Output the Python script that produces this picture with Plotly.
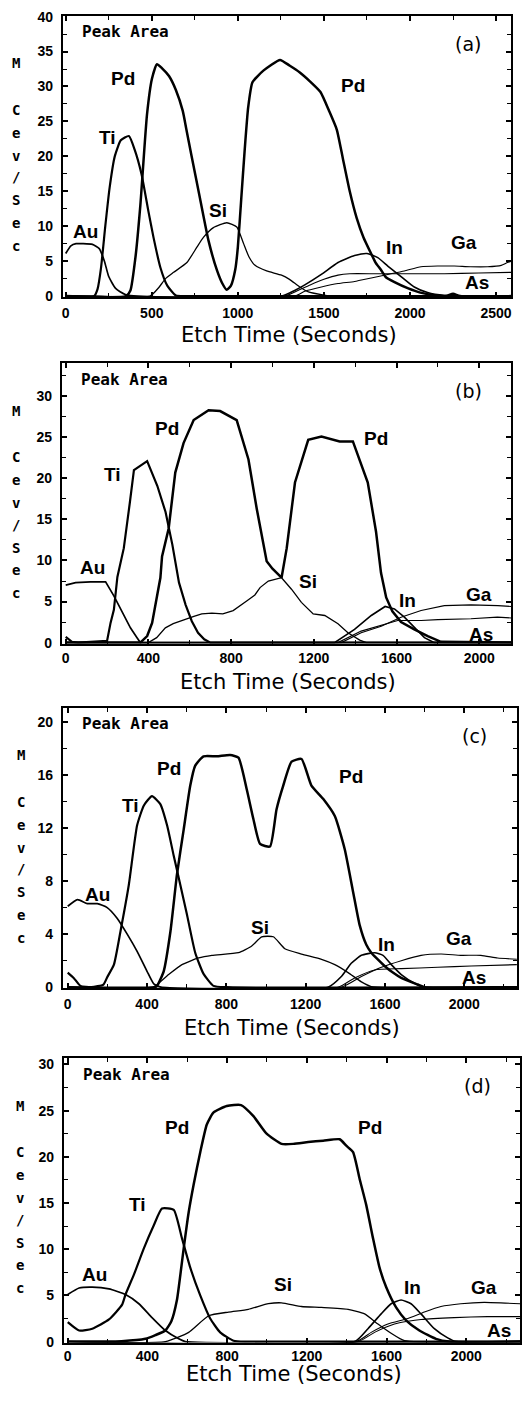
import plotly.graph_objects as go

W, H = 526, 1403

# ---------------- panel (a) ----------------
A_AU_T = [0, 30, 60, 100, 155, 195, 225, 250, 290, 350, 2590]
A_AU = [6.1, 7.2, 7.5, 7.5, 7.4, 6.8, 5.0, 2.8, 1.1, 0.2, 0]
A_TI_T = [0, 165, 185, 205, 230, 255, 285, 320, 367, 400, 440, 480, 510, 550, 590, 640, 700, 2590]
A_TI = [0, 0, 1.0, 4.0, 10.0, 15.5, 20.0, 22.3, 22.9, 21.0, 17.5, 12.2, 8.4, 4.1, 1.5, 0.1, 0, 0]
A_PD_T = [0, 350, 376, 405, 434, 472, 501, 530, 560, 600, 640, 680, 700, 730, 780, 830, 880, 910,
          935, 960, 985, 1000, 1020, 1040, 1060, 1085, 1150, 1245, 1300, 1360, 1420, 1480, 1530,
          1575, 1610, 1650, 1690, 1730, 1770, 1800, 1830, 1860, 1910, 1990, 2060, 2150, 2210,
          2250, 2290, 2590]
A_PD = [0, 0, 0.8, 5.5, 13.1, 25.9, 31.1, 33.2, 32.6, 31.5, 29.5, 26.5, 24.0, 20.2, 14.0, 7.9,
        3.6, 1.8, 0.9, 1.5, 3.8, 7.0, 14.0, 21.0, 27.0, 30.6, 32.3, 33.8, 33.0, 32.0, 30.7, 29.2,
        26.5, 23.8, 19.7, 15.0, 11.2, 8.4, 6.3, 4.8, 3.8, 2.7, 2.0, 1.1, 0.5, 0.1, 0, 0.35, 0, 0]
A_SI_T = [0, 490, 540, 580, 627, 704, 762, 800, 858, 936, 994, 1032, 1065, 1100, 1167, 1254, 1300,
          1360, 1410, 1485, 1540, 2590]
A_SI = [0, 0, 1.2, 2.5, 3.4, 4.8, 7.0, 8.4, 9.8, 10.5, 9.9, 7.6, 5.6, 4.4, 3.6, 3.0, 2.4, 1.3,
        0.6, 0.2, 0, 0]
A_IN_T = [0, 1254, 1330, 1389, 1485, 1582, 1678, 1750, 1813, 1871, 1948, 2025, 2102, 2199, 2590]
A_IN = [0, 0, 0.8, 1.6, 3.1, 4.8, 5.8, 6.1, 5.5, 4.3, 2.8, 1.3, 0.5, 0.1, 0]
A_GA_T = [0, 1331, 1389, 1485, 1582, 1678, 1775, 1871, 1967, 2064, 2160, 2257, 2350, 2450, 2530,
          2566, 2590]
A_GA = [0, 0, 0.7, 1.3, 1.8, 2.1, 2.6, 3.1, 3.6, 4.2, 4.3, 4.3, 4.2, 4.2, 4.4, 4.8, 5.0]
A_AS_T = [0, 1273, 1350, 1420, 1500, 1582, 1650, 1800, 2000, 2200, 2400, 2590]
A_AS = [0, 0, 0.8, 1.6, 2.4, 3.0, 3.2, 3.2, 3.2, 3.2, 3.3, 3.4]

# ---------------- panel (b) ----------------
B_AU_T = [0, 48, 120, 193, 233, 273, 313, 345, 361, 2155]
B_AU = [7.0, 7.3, 7.4, 7.4, 5.7, 3.7, 1.8, 0.6, 0, 0]
B_TI_T = [0, 30, 60, 200, 217, 233, 250, 281, 310, 330, 394, 443, 483, 516, 548, 580, 610, 640,
          670, 700, 2155]
B_TI = [0.7, 0.1, 0, 0.2, 2.4, 4.0, 8.0, 11.5, 17.0, 21.0, 22.1, 19.1, 15.9, 11.9, 7.3, 4.6,
        2.6, 1.2, 0.4, 0, 0]
B_PD_T = [0, 361, 394, 418, 442, 458, 466, 498, 530, 570, 619, 691, 747, 827, 884, 924, 972,
          1000, 1044, 1069, 1109, 1173, 1237, 1325, 1389, 1461, 1501, 1525, 1550, 1580, 1622,
          1686, 1751, 1815, 2155]
B_PD = [0, 0, 0.8, 2.4, 5.7, 7.9, 10.5, 13.9, 20.7, 24.3, 27.1, 28.3, 28.2, 27.1, 22.3, 16.3,
        9.9, 9.0, 7.9, 11.5, 19.5, 24.7, 25.1, 24.5, 24.5, 19.5, 13.5, 8.5, 5.5, 3.8, 2.5, 1.6,
        0.8, 0.1, 0]
B_SI_T = [0, 400, 440, 482, 520, 562, 620, 658, 707, 760, 810, 877, 915, 940, 980, 1044, 1092,
          1140, 1197, 1253, 1317, 1365, 1422, 1454, 2155]
B_SI = [0, 0, 0.6, 1.8, 2.3, 2.7, 3.2, 3.5, 3.6, 3.5, 3.9, 5.1, 5.8, 6.7, 7.5, 7.9, 6.5, 4.9,
        3.5, 3.3, 2.3, 1.2, 0.3, 0, 0]
B_IN_T = [0, 1300, 1397, 1478, 1545, 1590, 1638, 1686, 1735, 1783, 2155]
B_IN = [0, 0, 1.6, 3.3, 4.4, 4.1, 3.1, 1.8, 0.6, 0, 0]
B_GA_T = [0, 1333, 1429, 1526, 1622, 1719, 1831, 1960, 2090, 2155]
B_GA = [0, 0, 1.2, 2.0, 3.1, 3.9, 4.5, 4.6, 4.5, 4.4]
B_AS_T = [0, 1317, 1429, 1542, 1606, 1719, 1800, 1960, 2088, 2155]
B_AS = [0, 0, 1.4, 2.2, 2.7, 2.7, 2.8, 2.9, 3.1, 3.0]

# ---------------- panel (c) ----------------
C_AU_T = [0, 49, 99, 149, 199, 249, 300, 350, 400, 434, 470, 2265]
C_AU = [6.1, 6.6, 6.3, 6.3, 6.0, 5.2, 4.0, 2.7, 1.2, 0.25, 0, 0]
C_TI_T = [0, 30, 64, 120, 180, 199, 233, 266, 308, 350, 384, 425, 467, 501, 534, 568, 601, 643,
          685, 735, 800, 2265]
C_TI = [1.1, 0.7, 0.1, 0, 0.2, 0.75, 1.7, 4.2, 7.7, 12.2, 13.7, 14.4, 13.8, 12.2, 9.95, 7.7,
        5.5, 2.6, 1.0, 0.1, 0, 0]
C_PD_T = [0, 440, 451, 484, 518, 551, 585, 618, 643, 685, 752, 819, 861, 903, 936, 970, 1020,
          1053, 1087, 1129, 1179, 1229, 1288, 1347, 1397, 1439, 1472, 1506, 1531, 1556, 1598,
          1640, 1682, 1765, 1800, 2265]
C_PD = [0, 0, 0.1, 1.2, 4.2, 8.5, 11.9, 15.2, 16.7, 17.4, 17.4, 17.5, 17.3, 14.9, 12.7, 10.8,
        10.6, 13.4, 15.2, 17.0, 17.2, 15.2, 14.2, 12.9, 10.4, 7.2, 4.7, 3.2, 2.6, 2.2, 1.6, 1.1,
        0.7, 0.2, 0, 0]
C_SI_T = [0, 430, 442, 509, 576, 660, 727, 861, 928, 978, 1037, 1095, 1179, 1280, 1347, 1414,
          1481, 1531, 2265]
C_SI = [0, 0, 0.1, 0.95, 1.7, 2.2, 2.4, 2.6, 3.1, 3.8, 3.8, 2.9, 2.5, 2.1, 1.7, 1.1, 0.4, 0.05, 0]
C_IN_T = [0, 1313, 1380, 1430, 1481, 1548, 1590, 1632, 1682, 1749, 1800, 2265]
C_IN = [0, 0, 0.8, 1.8, 2.4, 2.6, 2.4, 1.7, 0.95, 0.3, 0, 0]
C_GA_T = [0, 1380, 1481, 1582, 1682, 1782, 1883, 1983, 2084, 2168, 2265]
C_GA = [0, 0, 0.8, 1.5, 2.0, 2.4, 2.5, 2.4, 2.4, 2.2, 2.1]
C_AS_T = [0, 1363, 1447, 1548, 1682, 1866, 2034, 2265]
C_AS = [0, 0, 0.7, 1.3, 1.4, 1.5, 1.6, 1.7]

# ---------------- panel (d) ----------------
D_AU_T = [0, 57, 123, 207, 290, 357, 423, 490, 557, 590, 2270]
D_AU = [5.1, 5.8, 5.9, 5.7, 5.1, 4.1, 2.6, 1.2, 0.3, 0, 0]
D_TI_T = [0, 57, 123, 207, 273, 290, 333, 382, 432, 473, 532, 573, 615, 665, 715, 765, 832, 900,
          2270]
D_TI = [2.1, 1.2, 1.4, 2.4, 4.0, 5.1, 7.3, 10.1, 12.6, 14.4, 14.25, 11.2, 8.0, 5.0, 2.5, 1.0,
        0.1, 0, 0]
D_PD_T = [0, 270, 390, 440, 490, 520, 548, 565, 582, 607, 632, 665, 698, 732, 798, 870, 932,
          998, 1073, 1132, 1207, 1282, 1365, 1398, 1432, 1465, 1498, 1532, 1565, 1598, 1648,
          1698, 1765, 1848, 1915, 2270]
D_PD = [0, 0.05, 0.3, 0.7, 1.2, 2.2, 4.5, 7.2, 10.1, 14.0, 17.0, 20.5, 23.5, 24.8, 25.5, 25.6,
        24.4, 22.5, 21.4, 21.4, 21.6, 21.75, 21.9, 21.2, 20.5, 17.6, 14.8, 11.2, 8.0, 5.9, 3.7,
        2.3, 1.2, 0.3, 0, 0]
D_SI_T = [0, 490, 607, 707, 807, 907, 1007, 1073, 1173, 1273, 1407, 1490, 1557, 1623, 1690, 2270]
D_SI = [0, 0, 1.0, 2.8, 3.2, 3.5, 4.1, 4.2, 3.8, 3.7, 3.5, 3.0, 1.9, 0.9, 0.1, 0]
D_IN_T = [0, 1440, 1507, 1573, 1623, 1673, 1723, 1773, 1840, 1907, 1950, 2270]
D_IN = [0, 0, 1.4, 3.0, 4.1, 4.5, 4.1, 3.0, 1.4, 0.4, 0, 0]
D_GA_T = [0, 1448, 1523, 1607, 1707, 1790, 1873, 1973, 2090, 2270]
D_GA = [0, 0, 1.0, 1.9, 2.5, 3.2, 3.8, 4.1, 4.25, 4.1]
D_AS_T = [0, 1457, 1540, 1640, 1707, 1773, 1940, 2107, 2270]
D_AS = [0, 0, 1.0, 1.9, 2.2, 2.4, 2.6, 2.7, 2.7]

# axis ticks per panel
A_XTICKS = [0, 500, 1000, 1500, 2000, 2500]
A_YTICKS = [0, 5, 10, 15, 20, 25, 30, 35, 40]
BCD_XTICKS = [0, 400, 800, 1200, 1600, 2000]
B_YTICKS = [0, 5, 10, 15, 20, 25, 30]
C_YTICKS = [0, 4, 8, 12, 16, 20]
D_YTICKS = [0, 5, 10, 15, 20, 25, 30]

# element labels: (text, time, value)
A_LABELS = [("Pd", 330, 31.2), ("Ti", 241, 22.7), ("Au", 116, 9.3), ("Si", 886, 12.3),
            ("Pd", 1668, 30.1), ("In", 1910, 6.9), ("Ga", 2315, 7.6), ("As", 2392, 2.0)]
B_LABELS = [("Pd", 490, 26.1), ("Ti", 225, 20.5), ("Au", 129, 9.1), ("Si", 1172, 7.5),
            ("Pd", 1502, 24.8), ("In", 1654, 5.1), ("Ga", 2000, 5.9), ("As", 2008, 0.96)]
C_LABELS = [("Pd", 509, 16.5), ("Ti", 317, 13.7), ("Au", 149, 7.0), ("Si", 970, 4.5),
            ("Pd", 1431, 15.9), ("In", 1606, 3.2), ("Ga", 1975, 3.7), ("As", 2050, 0.7)]
D_LABELS = [("Pd", 548, 23.2), ("Ti", 348, 14.8), ("Au", 132, 7.3), ("Si", 1082, 6.2),
            ("Pd", 1515, 23.2), ("In", 1732, 5.9), ("Ga", 2090, 5.9), ("As", 2165, 1.2)]

Y_LETTERS = ["M", "C", "e", "v", "/", "S", "e", "c"]

LINE_W = {"Pd": 2.5, "Ti": 2.2, "Au": 1.7, "In": 1.6, "Si": 1.3, "Ga": 1.1, "As": 1.1}

panels = [
    dict(tag="(a)", box=(62, 512, 9, 293), xr=[-17, 2587], yr=[-0.14, 40.1],
         xt=A_XTICKS, yt=A_YTICKS, dx=250, dy=2.5, xstand=2, title_y=331, letter_x=15,
         shape="spline",
         series=[("Au", A_AU_T, A_AU), ("Ti", A_TI_T, A_TI), ("Pd", A_PD_T, A_PD),
                 ("Si", A_SI_T, A_SI), ("In", A_IN_T, A_IN), ("Ga", A_GA_T, A_GA),
                 ("As", A_AS_T, A_AS)],
         labels=A_LABELS),
    dict(tag="(b)", box=(61, 512, 360, 643), xr=[-19, 2154], yr=[-0.12, 34.0],
         xt=BCD_XTICKS, yt=B_YTICKS, dx=200, dy=2.5, xstand=1, title_y=682, letter_x=15,
         shape="linear",
         series=[("Au", B_AU_T, B_AU), ("Ti", B_TI_T, B_TI), ("Pd", B_PD_T, B_PD),
                 ("Si", B_SI_T, B_SI), ("In", B_IN_T, B_IN), ("Ga", B_GA_T, B_GA),
                 ("As", B_AS_T, B_AS)],
         labels=B_LABELS),
    dict(tag="(c)", box=(62, 518, 708, 991), xr=[-25, 2266], yr=[-0.07, 21.05],
         xt=BCD_XTICKS, yt=C_YTICKS, dx=200, dy=2, xstand=2, title_y=1031, letter_x=20,
         shape="spline",
         series=[("Au", C_AU_T, C_AU), ("Ti", C_TI_T, C_TI), ("Pd", C_PD_T, C_PD),
                 ("Si", C_SI_T, C_SI), ("In", C_IN_T, C_IN), ("Ga", C_GA_T, C_GA),
                 ("As", C_AS_T, C_AS)],
         labels=C_LABELS),
    dict(tag="(d)", box=(63, 521, 1062, 1349), xr=[-20, 2270], yr=[-0.1, 30.65],
         xt=BCD_XTICKS, yt=D_YTICKS, dx=200, dy=2.5, xstand=0, title_y=1381, letter_x=19,
         shape="spline",
         series=[("Au", D_AU_T, D_AU), ("Ti", D_TI_T, D_TI), ("Pd", D_PD_T, D_PD),
                 ("Si", D_SI_T, D_SI), ("In", D_IN_T, D_IN), ("Ga", D_GA_T, D_GA),
                 ("As", D_AS_T, D_AS)],
         labels=D_LABELS),
]

TICK_FONT = dict(family="Liberation Sans", size=14, color="black")
MONO_FONT = dict(family="DejaVu Sans Mono", size=16, color="black", weight="bold")
LABEL_FONT = dict(family="Liberation Sans", size=19, color="black", weight="bold")
TEXT_FONT = dict(family="DejaVu Sans", size=21, color="black")

fig = go.Figure()
annotations = []
layout = dict(width=W, height=H, margin=dict(l=0, r=0, t=0, b=0),
              paper_bgcolor="white", plot_bgcolor="white", showlegend=False)


def px_x(p):
    return p / W


def px_y(p):
    return 1 - p / H


def bold(vals):
    return ["<b>%d</b>" % v for v in vals]


for i, p in enumerate(panels, start=1):
    sfx = "" if i == 1 else str(i)
    xa, ya = "x" + sfx, "y" + sfx
    left, right, top, bottom = p["box"]
    common = dict(showline=True, linecolor="black", linewidth=1.8, mirror="allticks",
                  ticks="inside", ticklen=5, tickwidth=1.5, tickcolor="black",
                  showgrid=False, zeroline=False, tickfont=TICK_FONT, fixedrange=True)
    layout["xaxis" + sfx] = dict(common, domain=[px_x(left), px_x(right)], range=p["xr"],
                                 tickvals=p["xt"], ticktext=bold(p["xt"]), anchor=ya,
                                 ticklabelstandoff=p["xstand"],
                                 minor=dict(dtick=p["dx"], tick0=0, ticks="inside",
                                            ticklen=4, tickwidth=1.3, tickcolor="black"))
    layout["yaxis" + sfx] = dict(common, domain=[px_y(bottom), px_y(top)], range=p["yr"],
                                 tickvals=p["yt"], ticktext=bold(p["yt"]), anchor=xa,
                                 ticklabelstandoff=5,
                                 minor=dict(dtick=p["dy"], tick0=0, ticks="inside",
                                            ticklen=4, tickwidth=1.3, tickcolor="black"))

    for name, t, v in p["series"]:
        line = dict(color="black", width=LINE_W[name], shape=p["shape"])
        if p["shape"] == "spline":
            line["smoothing"] = 0.5
        fig.add_trace(go.Scatter(x=t, y=v, mode="lines", xaxis=xa, yaxis=ya, line=line,
                                 hoverinfo="skip"))

    for text, tx, ty in p["labels"]:
        annotations.append(dict(text=text, x=tx, y=ty, xref=xa, yref=ya, showarrow=False,
                                font=LABEL_FONT, xanchor="center", yanchor="middle"))

    # "Peak Area" caption and panel tag
    annotations.append(dict(text="Peak Area", x=px_x(left + 17), y=px_y(top + 16),
                            xref="paper", yref="paper", showarrow=False, font=MONO_FONT,
                            xanchor="left", yanchor="middle"))
    annotations.append(dict(text=p["tag"], x=px_x(right - 43), y=px_y(top + 28),
                            xref="paper", yref="paper", showarrow=False,
                            font=dict(TEXT_FONT, size=19), xanchor="center",
                            yanchor="middle"))
    # x-axis title
    annotations.append(dict(text="Etch Time (Seconds)", x=px_x((left + right) / 2 + 2),
                            y=px_y(p["title_y"]), xref="paper", yref="paper",
                            showarrow=False, font=TEXT_FONT, xanchor="center",
                            yanchor="middle"))
    # stacked y-axis title letters
    offsets = [48, 95, 118, 141, 163, 186, 209, 232]
    for letter, off in zip(Y_LETTERS, offsets):
        annotations.append(dict(text=letter, x=px_x(p["letter_x"]), y=px_y(top + off),
                                xref="paper", yref="paper", showarrow=False,
                                font=dict(MONO_FONT, size=14), xanchor="center",
                                yanchor="middle"))

layout["annotations"] = annotations
fig.update_layout(**layout)
fig.write_html("out.html")
